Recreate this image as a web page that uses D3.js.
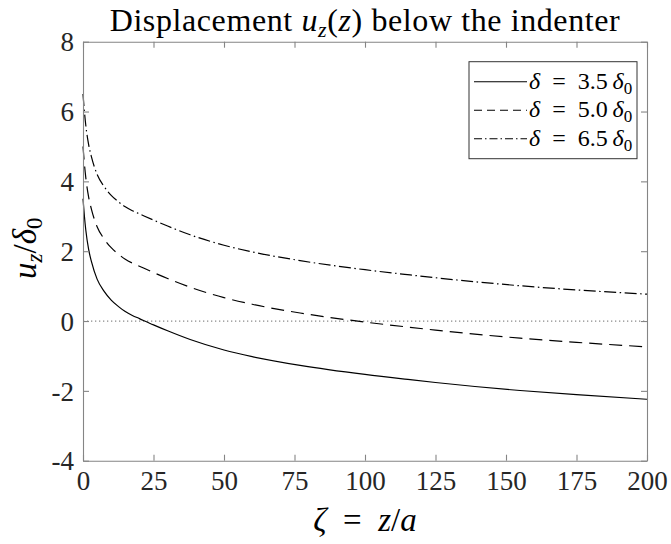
<!DOCTYPE html>
<html>
<head>
<meta charset="utf-8">
<script src="https://cdn.jsdelivr.net/npm/d3@7"></script>
<style>
  html, body { margin: 0; padding: 0; background: #fff; }
  svg { display: block; }
  text { font-family: "Liberation Serif", "DejaVu Serif", serif; }
</style>
</head>
<body>
<svg id="chart" width="671" height="544"></svg>
<script>
// ---- data ----
const zeta     = [0, 0.5, 1, 2, 3, 5, 7.5, 10, 12.5, 15, 17.5, 20, 25, 30, 38, 50, 60, 77, 100, 116, 125, 155, 175, 200];
const uSolid   = [3.5, 3.0, 2.6, 2.05, 1.7, 1.2, 0.85, 0.6, 0.42, 0.27, 0.16, 0.07, -0.11, -0.28, -0.53, -0.83, -1.02, -1.27, -1.53, -1.68, -1.76, -1.99, -2.11, -2.24];
const uDashed  = [5.0, 4.5, 4.1, 3.55, 3.2, 2.7, 2.35, 2.1, 1.92, 1.77, 1.66, 1.57, 1.39, 1.22, 0.97, 0.67, 0.48, 0.23, -0.03, -0.18, -0.26, -0.49, -0.61, -0.74];
const uDashDot = [6.5, 6.0, 5.6, 5.05, 4.7, 4.2, 3.85, 3.6, 3.42, 3.27, 3.16, 3.07, 2.89, 2.72, 2.47, 2.17, 1.98, 1.73, 1.47, 1.32, 1.24, 1.01, 0.89, 0.77];
const seriesNames = ["3.5", "5.0", "6.5"];
const xTicks = [0, 25, 50, 75, 100, 125, 150, 175, 200];
const yTicks = [-4, -2, 0, 2, 4, 6, 8];
const yTickLabels = ["-4", "-2", "0", "2", "4", "6", "8"];

const series = [
  { name: seriesNames[0], values: uSolid, dash: null, legDash: null },
  { name: seriesNames[1], values: uDashed, dash: "13,7", legDash: "8,5" },
  { name: seriesNames[2], values: uDashDot, dash: "12,3.5,1.5,3.5", legDash: "8,3,1.5,3" }
];

const svg = d3.select("#chart");
const L = 83, R = 647, T = 41.7, B = 460.7;
const x = d3.scaleLinear().domain([0, 200]).range([L, R]);
const y = d3.scaleLinear().domain([-4, 8]).range([B, T]);
const axisColor = "#858585";
const textColor = "#262626";

// zero reference line (dotted)
svg.append("line")
  .attr("x1", x(0)).attr("x2", x(200))
  .attr("y1", y(0)).attr("y2", y(0))
  .attr("stroke", "#8a8a8a").attr("stroke-width", 1.2)
  .attr("stroke-dasharray", "1.3,2.7");

// curves
const line = d3.line().x((d, i) => x(zeta[i])).y(d => y(d)).curve(d3.curveMonotoneX);
series.forEach(s => {
  svg.append("path")
    .attr("d", line(s.values))
    .attr("fill", "none")
    .attr("stroke", "#000")
    .attr("stroke-width", 1.2)
    .attr("stroke-dasharray", s.dash);
});

// axes (box with inward ticks)
const tickLen = 6;
const axB = svg.append("g").attr("transform", `translate(0,${B})`)
  .call(d3.axisBottom(x).tickValues(xTicks).tickSizeInner(-tickLen).tickSizeOuter(0).tickPadding(10).tickFormat(d3.format("d")));
const axT = svg.append("g").attr("transform", `translate(0,${T})`)
  .call(d3.axisTop(x).tickValues(xTicks).tickSizeInner(-tickLen).tickSizeOuter(0).tickFormat(""));
const axL = svg.append("g").attr("transform", `translate(${L},0)`)
  .call(d3.axisLeft(y).tickValues(yTicks).tickSizeInner(-tickLen).tickSizeOuter(0).tickPadding(10)
    .tickFormat((d, i) => yTickLabels[i]));
const axR = svg.append("g").attr("transform", `translate(${R},0)`)
  .call(d3.axisRight(y).tickValues(yTicks).tickSizeInner(-tickLen).tickSizeOuter(0).tickFormat(""));

[axB, axT, axL, axR].forEach(g => {
  g.attr("font-family", null);
  g.select(".domain").attr("stroke", axisColor).attr("stroke-width", 1.1);
  g.selectAll(".tick line").attr("stroke", axisColor).attr("stroke-width", 1.1);
  g.selectAll(".tick text").attr("fill", textColor)
    .style("font-family", "'Liberation Serif', serif").style("font-size", "27px");
});
axB.selectAll(".tick text").attr("dy", "0.72em");
axL.selectAll(".tick text").attr("dy", "0.34em").attr("x", -9);

// title
const title = svg.append("text")
  .attr("x", (L + R) / 2).attr("y", 31)
  .attr("text-anchor", "middle")
  .attr("fill", "#000")
  .style("font-size", "32px")
  .style("letter-spacing", "0.6px");
title.append("tspan").text("Displacement ");
title.append("tspan").attr("font-style", "italic").text("u");
title.append("tspan").attr("font-style", "italic").attr("font-size", "22px").attr("dy", 6).text("z");
title.append("tspan").attr("dy", -6).text("(");
title.append("tspan").attr("font-style", "italic").text("z");
title.append("tspan").text(") below the indenter");

// x label
const xl = svg.append("text")
  .attr("x", (L + R) / 2).attr("y", 531)
  .attr("text-anchor", "middle").attr("fill", "#000")
  .style("font-size", "33px");
xl.append("tspan").attr("font-style", "italic").text("ζ");
xl.append("tspan").text("\u2002=\u2002");
xl.append("tspan").attr("font-style", "italic").text("z");
xl.append("tspan").text("/");
xl.append("tspan").attr("font-style", "italic").text("a");

// y label
const yl = svg.append("text")
  .attr("transform", `translate(36,${(T + B) / 2 - 3}) rotate(-90)`)
  .attr("text-anchor", "middle").attr("fill", "#000")
  .style("font-size", "33px");
yl.append("tspan").attr("font-style", "italic").text("u");
yl.append("tspan").attr("font-style", "italic").attr("font-size", "23px").attr("dy", 6).text("z");
yl.append("tspan").attr("dy", -6).text("/");
yl.append("tspan").attr("font-style", "italic").text("δ");
yl.append("tspan").attr("font-size", "23px").attr("dy", 6).text("0");

// legend
const lg = svg.append("g");
lg.append("rect")
  .attr("x", 469).attr("y", 61.7).attr("width", 168).attr("height", 97)
  .attr("fill", "#fff").attr("stroke", "#333").attr("stroke-width", 1);
const rowY = [81.7, 110.2, 138.7];
series.forEach((s, i) => {
  lg.append("line")
    .attr("x1", 474).attr("x2", 527)
    .attr("y1", rowY[i]).attr("y2", rowY[i])
    .attr("stroke", "#000").attr("stroke-width", 1.1)
    .attr("stroke-dasharray", s.legDash);
  const t = lg.append("text")
    .attr("x", 529).attr("y", rowY[i] + 7)
    .attr("fill", "#000").style("font-size", "24px");
  t.append("tspan").attr("font-style", "italic").text("δ");
  t.append("tspan").text("\u2002=\u2002" + s.name + "\u2009");
  t.append("tspan").attr("font-style", "italic").text("δ");
  t.append("tspan").attr("font-size", "17px").attr("dy", 5).text("0");
});
</script>
</body>
</html>
